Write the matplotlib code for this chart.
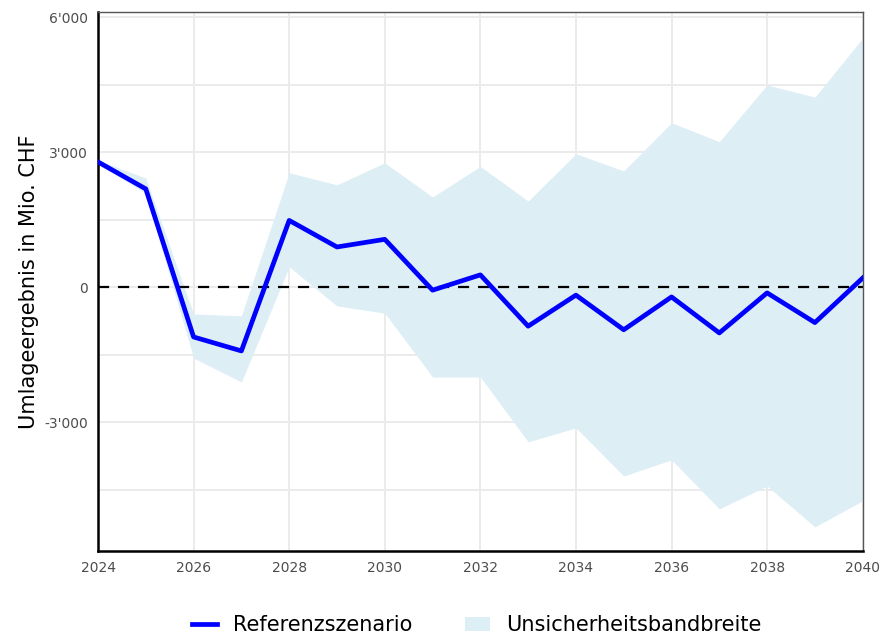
import matplotlib.pyplot as plt
from matplotlib.ticker import FuncFormatter, MultipleLocator

# Umlageergebnis (Mio. CHF), Referenzszenario und Bandbreite
jahre = list(range(2024, 2041))
referenz = [2780, 2180, -1110, -1420, 1480, 890, 1060, -70, 270,
            -870, -180, -950, -220, -1020, -130, -790, 200]
band_oben = [2820, 2420, -600, -640, 2540, 2270, 2760, 2000, 2680,
             1910, 2960, 2580, 3650, 3230, 4490, 4220, 5530]
band_unten = [2740, 2080, -1580, -2110, 450, -420, -580, -2000, -2000,
              -3440, -3130, -4200, -3840, -4930, -4420, -5330, -4750]

fig = plt.figure(figsize=(8.83, 6.35), dpi=100)
ax = fig.add_axes([0.111, 0.132, 0.866, 0.849])

ax.fill_between(jahre, band_unten, band_oben, color='#ddeef5', linewidth=0,
                label='Unsicherheitsbandbreite', zorder=2)
ax.plot(jahre, referenz, color='#0000ff', linewidth=3.4,
        label='Referenzszenario', zorder=4)
ax.axhline(0, color='black', linestyle='--', linewidth=1.6,
           dashes=(5, 4), zorder=3)

ax.set_xlim(2024, 2040)
ax.set_ylim(-5870, 6110)
ax.set_xticks(range(2024, 2041, 2))
ax.yaxis.set_major_locator(MultipleLocator(3000))
ax.yaxis.set_minor_locator(MultipleLocator(1500))
ax.yaxis.set_major_formatter(FuncFormatter(lambda v, p: f'{int(v):,}'.replace(',', "'")))

ax.grid(True, which='both', color='#ebebeb', linewidth=1.4, zorder=1)
ax.grid(False, axis='x', which='minor')
ax.set_axisbelow(True)
ax.tick_params(which='both', length=0, labelsize=10, labelcolor='#4d4d4d', pad=7)

for s in ['top', 'right']:
    ax.spines[s].set_color('#555555')
    ax.spines[s].set_linewidth(1)
for s in ['left', 'bottom']:
    ax.spines[s].set_color('black')
    ax.spines[s].set_linewidth(1.8)

ax.set_ylabel('Umlageergebnis in Mio. CHF', fontsize=15, labelpad=4)

handles, labels = ax.get_legend_handles_labels()
fig.legend(handles[::-1], labels[::-1], loc='lower center', ncol=2,
           frameon=False, fontsize=15, bbox_to_anchor=(0.54, -0.03),
           columnspacing=2.5, handlelength=1.2)

fig.savefig('out.png', dpi=100)
